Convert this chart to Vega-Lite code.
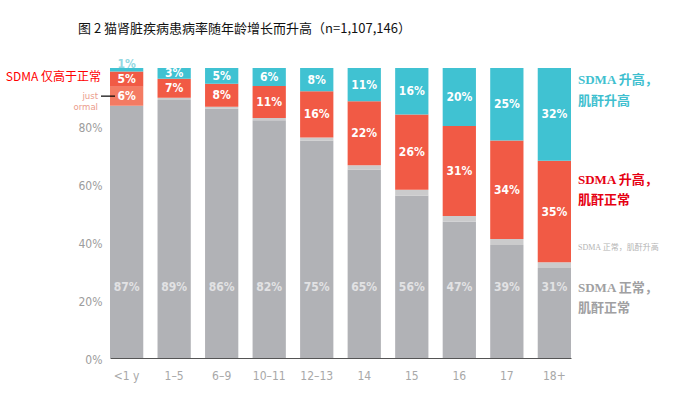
{
  "$schema": "https://vega.github.io/schema/vega-lite/v6.json",
  "autosize": "none",
  "width": 461,
  "height": 290,
  "padding": {"left": 110, "top": 68, "right": 108, "bottom": 38},
  "background": "white",
  "config": {"view": {"stroke": null}},
  "title": {
    "text": "图 2 猫肾脏疾病患病率随年龄增长而升高（n=1,107,146）",
    "anchor": "start",
    "frame": "group",
    "dx": -32,
    "offset": 22,
    "font": "Noto Sans CJK SC",
    "fontSize": 13,
    "fontWeight": "normal",
    "color": "#111111"
  },
  "data": {
    "values": [
      {"age": "<1 y", "cat": "normal", "value": 87, "label": "87%"},
      {"age": "<1 y", "cat": "just", "value": 6.5, "label": "6%"},
      {"age": "<1 y", "cat": "sdma", "value": 5.3, "label": "5%"},
      {"age": "<1 y", "cat": "both", "value": 1.2, "label": "1%"},
      {"age": "1–5", "cat": "normal", "value": 89, "label": "89%"},
      {"age": "1–5", "cat": "creat", "value": 0.7, "label": ""},
      {"age": "1–5", "cat": "sdma", "value": 6.6, "label": "7%"},
      {"age": "1–5", "cat": "both", "value": 3.7, "label": "3%"},
      {"age": "6–9", "cat": "normal", "value": 86, "label": "86%"},
      {"age": "6–9", "cat": "creat", "value": 0.6, "label": ""},
      {"age": "6–9", "cat": "sdma", "value": 8, "label": "8%"},
      {"age": "6–9", "cat": "both", "value": 5.4, "label": "5%"},
      {"age": "10–11", "cat": "normal", "value": 82, "label": "82%"},
      {"age": "10–11", "cat": "creat", "value": 0.8, "label": ""},
      {"age": "10–11", "cat": "sdma", "value": 11, "label": "11%"},
      {"age": "10–11", "cat": "both", "value": 6.2, "label": "6%"},
      {"age": "12–13", "cat": "normal", "value": 75, "label": "75%"},
      {"age": "12–13", "cat": "creat", "value": 1, "label": ""},
      {"age": "12–13", "cat": "sdma", "value": 16, "label": "16%"},
      {"age": "12–13", "cat": "both", "value": 8, "label": "8%"},
      {"age": "14", "cat": "normal", "value": 65, "label": "65%"},
      {"age": "14", "cat": "creat", "value": 1.5, "label": ""},
      {"age": "14", "cat": "sdma", "value": 22, "label": "22%"},
      {"age": "14", "cat": "both", "value": 11.5, "label": "11%"},
      {"age": "15", "cat": "normal", "value": 56, "label": "56%"},
      {"age": "15", "cat": "creat", "value": 2, "label": ""},
      {"age": "15", "cat": "sdma", "value": 26, "label": "26%"},
      {"age": "15", "cat": "both", "value": 16, "label": "16%"},
      {"age": "16", "cat": "normal", "value": 47, "label": "47%"},
      {"age": "16", "cat": "creat", "value": 2, "label": ""},
      {"age": "16", "cat": "sdma", "value": 31, "label": "31%"},
      {"age": "16", "cat": "both", "value": 20, "label": "20%"},
      {"age": "17", "cat": "normal", "value": 39, "label": "39%"},
      {"age": "17", "cat": "creat", "value": 2, "label": ""},
      {"age": "17", "cat": "sdma", "value": 34, "label": "34%"},
      {"age": "17", "cat": "both", "value": 25, "label": "25%"},
      {"age": "18+", "cat": "normal", "value": 31, "label": "31%"},
      {"age": "18+", "cat": "creat", "value": 2, "label": ""},
      {"age": "18+", "cat": "sdma", "value": 35, "label": "35%"},
      {"age": "18+", "cat": "both", "value": 32, "label": "32%"}
    ]
  },
  "transform": [
    {"calculate": "indexof(['normal','creat','just','sdma','both'], datum.cat)", "as": "ord"},
    {"stack": "value", "groupby": ["age"], "sort": [{"field": "ord", "order": "ascending"}], "as": ["v0", "v1"]},
    {"calculate": "(datum.v0 + datum.v1) / 2", "as": "mid"}
  ],
  "encoding": {
    "x": {
      "field": "age",
      "type": "nominal",
      "sort": ["<1 y", "1–5", "6–9", "10–11", "12–13", "14", "15", "16", "17", "18+"],
      "scale": {"paddingInner": 0.3, "paddingOuter": 0},
      "axis": {
        "title": null,
        "labelAngle": 0,
        "ticks": false,
        "domain": true,
        "domainColor": "#555555",
        "domainWidth": 1,
        "labelPadding": 12,
        "labelColor": "#a8a8a8",
        "labelFont": "Liberation Sans Narrow, DejaVu Sans Condensed, sans-serif",
        "labelFontSize": 12,
        "grid": false
      }
    }
  },
  "layer": [
    {
      "mark": {"type": "bar"},
      "encoding": {
        "y": {
          "field": "v0",
          "type": "quantitative",
          "scale": {"domain": [0, 100]},
          "axis": {
            "title": null,
            "values": [0, 20, 40, 60, 80],
            "labelExpr": "datum.value + '%'",
            "domain": false,
            "ticks": false,
            "grid": false,
            "labelPadding": 8,
            "labelOffset": 1,
            "labelColor": "#9c9c9c",
            "labelFont": "Liberation Sans Narrow, DejaVu Sans Condensed, sans-serif",
            "labelFontSize": 12
          }
        },
        "y2": {"field": "v1"},
        "color": {
          "field": "cat",
          "type": "nominal",
          "scale": {
            "domain": ["normal", "creat", "just", "sdma", "both"],
            "range": ["#b1b2b6", "#cbcbcc", "#f47b63", "#f15a45", "#40c2d2"]
          },
          "legend": null
        }
      }
    },
    {
      "transform": [
        {"filter": "datum.cat == 'sdma' || datum.cat == 'just' || (datum.cat == 'both' && datum.age != '<1 y')"}
      ],
      "mark": {
        "type": "text",
        "color": "#ffffff",
        "fontWeight": "bold",
        "fontSize": 12,
        "font": "Liberation Sans Narrow, DejaVu Sans Condensed, sans-serif",
        "baseline": "middle"
      },
      "encoding": {
        "y": {"field": "mid", "type": "quantitative"},
        "text": {"field": "label"}
      }
    },
    {
      "transform": [{"filter": "datum.cat == 'both' && datum.age == '<1 y'"}],
      "mark": {
        "type": "text",
        "color": "#93d8e2",
        "fontWeight": "bold",
        "fontSize": 12,
        "font": "Liberation Sans Narrow, DejaVu Sans Condensed, sans-serif",
        "baseline": "alphabetic",
        "dy": 0
      },
      "encoding": {
        "y": {"field": "v1", "type": "quantitative"},
        "text": {"field": "label"}
      }
    },
    {
      "transform": [{"filter": "datum.cat == 'normal'"}],
      "mark": {
        "type": "text",
        "color": "#e2e2e4",
        "fontWeight": "bold",
        "fontSize": 12,
        "font": "Liberation Sans Narrow, DejaVu Sans Condensed, sans-serif",
        "baseline": "middle"
      },
      "encoding": {
        "y": {"datum": 24.5},
        "text": {"field": "label"}
      }
    },
    {
      "data": {"values": [{"t": "just"}, {"t": "ormal"}]},
      "transform": [{"calculate": "datum.t == 'just' ? 90.2 : 86.4", "as": "ypos"}],
      "mark": {"type": "text", "align": "right", "baseline": "middle", "dx": -12, "fontSize": 9.5, "color": "#eb9c8c", "font": "Liberation Sans Narrow, DejaVu Sans Condensed, sans-serif"},
      "encoding": {
        "x": {"datum": "<1 y", "bandPosition": 0},
        "y": {"field": "ypos", "type": "quantitative"},
        "text": {"field": "t"}
      }
    },
    {
      "data": {"values": [{"t": "SDMA 仅高于正常"}]},
      "mark": {"type": "text", "align": "right", "baseline": "middle", "dx": -9, "fontSize": 12, "color": "#ff0000", "font": "Noto Sans CJK SC"},
      "encoding": {
        "x": {"datum": "<1 y", "bandPosition": 0},
        "y": {"datum": 96.9},
        "text": {"field": "t"}
      }
    },
    {
      "data": {"values": [{}]},
      "mark": {"type": "rule", "color": "#000000", "strokeWidth": 1.2, "xOffset": -9, "x2Offset": 5},
      "encoding": {
        "x": {"datum": "<1 y", "bandPosition": 0},
        "x2": {"datum": "<1 y", "bandPosition": 0},
        "y": {"datum": 90.3}
      }
    },
    {
      "data": {"values": [{"t": "SDMA 升高，", "y": 95.9}, {"t": "肌酐升高", "y": 88.6}]},
      "mark": {"type": "text", "align": "left", "baseline": "middle", "dx": 7, "fontSize": 13, "fontWeight": "bold", "color": "#3fbfcf", "font": "Liberation Serif, Noto Sans CJK SC"},
      "encoding": {
        "x": {"datum": "18+", "bandPosition": 1},
        "y": {"field": "y", "type": "quantitative"},
        "text": {"field": "t"}
      }
    },
    {
      "data": {"values": [{"t": "SDMA 升高，", "y": 61.4}, {"t": "肌酐正常", "y": 54.5}]},
      "mark": {"type": "text", "align": "left", "baseline": "middle", "dx": 7, "fontSize": 13, "fontWeight": "bold", "color": "#e60012", "font": "Liberation Serif, Noto Sans CJK SC"},
      "encoding": {
        "x": {"datum": "18+", "bandPosition": 1},
        "y": {"field": "y", "type": "quantitative"},
        "text": {"field": "t"}
      }
    },
    {
      "data": {"values": [{"t": "SDMA 正常，肌酐升高", "y": 37.9}]},
      "mark": {"type": "text", "align": "left", "baseline": "middle", "dx": 7, "fontSize": 8, "color": "#b4b4b4", "font": "Liberation Serif, Noto Sans CJK SC"},
      "encoding": {
        "x": {"datum": "18+", "bandPosition": 1},
        "y": {"field": "y", "type": "quantitative"},
        "text": {"field": "t"}
      }
    },
    {
      "data": {"values": [{"t": "SDMA 正常，", "y": 24.1}, {"t": "肌酐正常", "y": 17.2}]},
      "mark": {"type": "text", "align": "left", "baseline": "middle", "dx": 7, "fontSize": 13, "fontWeight": "bold", "color": "#a0a0a2", "font": "Liberation Serif, Noto Sans CJK SC"},
      "encoding": {
        "x": {"datum": "18+", "bandPosition": 1},
        "y": {"field": "y", "type": "quantitative"},
        "text": {"field": "t"}
      }
    }
  ]
}
